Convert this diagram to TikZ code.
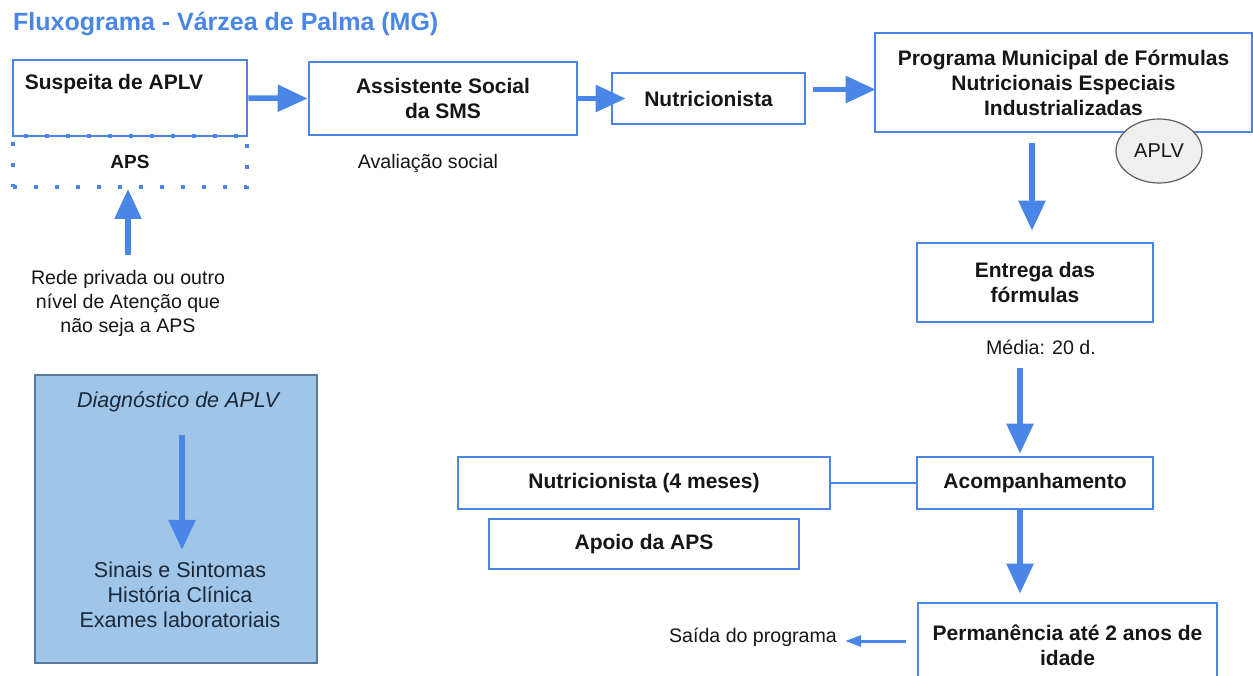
\documentclass[tikz,border=0pt]{standalone}
\usepackage{fontspec}
\setmainfont{Liberation Sans}
\usetikzlibrary{arrows.meta,shapes.geometric}

\definecolor{gblue}{HTML}{4A86E8}
\definecolor{inkc}{HTML}{161616}
\definecolor{diagfill}{HTML}{9FC5E8}
\definecolor{diagdraw}{HTML}{5A7898}
\definecolor{diagink}{HTML}{1B2838}
\definecolor{ovalfill}{HTML}{EFEFEF}
\definecolor{ovaldraw}{HTML}{5E5E5E}

\tikzset{
  box/.style={draw=gblue, line width=2.6pt, fill=white, inner sep=0pt,
              align=center, text=inkc, font={\fontsize{21}{25}\selectfont\bfseries}},
  apsbox/.style={draw=gblue, line width=4pt, dash pattern=on 4pt off 17pt,
              inner sep=0pt, text=inkc, font={\fontsize{19}{24}\selectfont\bfseries}},
  btext/.style={inner sep=0pt, text=inkc, font={\fontsize{21}{25}\selectfont\bfseries}},
  rtext/.style={inner sep=0pt, align=center, text=inkc, font={\fontsize{19.6}{24}\selectfont}},
  arr/.style={draw=gblue, line width=5.5pt, -{Triangle[length=30pt,width=26pt]}},
  smallarr/.style={draw=gblue, line width=3pt, -{Triangle[length=16pt,width=11pt]}},
  link/.style={draw=gblue, line width=2.5pt},
}

\begin{document}
\begin{tikzpicture}[x=1pt,y=-1pt]
  \clip (0,0) rectangle (1253,676);
  \fill[white] (0,0) rectangle (1253,676);

  % heading
  \node[anchor=west, inner sep=0pt, text=gblue,
        font={\fontsize{25}{30}\selectfont\bfseries}] (title) at (13,24)
        {Fluxograma - Várzea de Palma (MG)};

  % entry point and primary care
  \node[box, minimum width=234pt, minimum height=76pt] (susp) at (130,98) {};
  \node[btext, anchor=west] (suspt) at ([xshift=13pt,yshift=-25pt]susp.north west) {Suspeita de APLV};
  \node[apsbox, minimum width=234pt, minimum height=51pt] (aps) at (130,161.5) {APS};
  \node[rtext] (rede) at (128,303.5) {Rede privada ou outro\\nível de Atenção que\\não seja a APS};

  % top row
  \node[box, minimum width=268pt, minimum height=73pt] (asst) at (443,98.5) {Assistente Social\\da SMS};
  \node[rtext] (aval) at (428,163) {Avaliação social};
  \node[box, minimum width=193pt, minimum height=51pt] (nutri) at (708.5,98.5) {Nutricionista};
  \node[box, minimum width=377pt, minimum height=99pt] (prog) at (1063.5,82.5)
        {Programa Municipal de Fórmulas\\Nutricionais Especiais\\Industrializadas};
  \node[ellipse, draw=ovaldraw, line width=1.2pt, fill=ovalfill, inner sep=0pt,
        minimum width=86pt, minimum height=64pt, text=inkc,
        font={\fontsize{20}{24}\selectfont}] (aplv) at (1159,151) {APLV};

  % right column
  \node[box, minimum width=236pt, minimum height=79pt] (entrega) at (1035,282.5) {Entrega das\\fórmulas};
  \node[rtext] (media) at (1041,347) {Média: 20 d.};
  \node[box, minimum width=236pt, minimum height=52pt] (acomp) at (1035,483) {Acompanhamento};
  \node[box, minimum width=372pt, minimum height=52pt] (nutri4) at (644,483) {Nutricionista (4 meses)};
  \node[box, minimum width=310pt, minimum height=50pt] (apoio) at (644,544) {Apoio da APS};
  \node[box, minimum width=299pt, minimum height=84pt] (perm) at (1067.5,645) {Permanência até 2 anos de\\idade};
  \node[rtext] (saida) at (753,637) {Saída do programa};

  % diagnosis panel
  \node[draw=diagdraw, line width=1.6pt, fill=diagfill, inner sep=0pt,
        minimum width=282pt, minimum height=288pt] (diag) at (176,519) {};
  \node[inner sep=0pt, text=diagink, font={\fontsize{21.5}{25}\selectfont\itshape}] (diagt) at (178,402)
        {Diagnóstico de APLV};
  \node[inner sep=0pt, align=center, text=diagink, font={\fontsize{21.5}{25}\selectfont}] (diagl) at (180,595)
        {Sinais e Sintomas\\História Clínica\\Exames laboratoriais};

  % connectors
  \draw[arr] (susp.east) -- (asst.west);
  \draw[arr] (asst.east) -- ([xshift=15pt]nutri.west);
  \draw[arr] ([xshift=7pt,yshift=9pt]nutri.east) -- ([xshift=2pt,yshift=-7pt]prog.west);
  \draw[arr] ([xshift=-3pt,yshift=-10pt]entrega.north |- prog.south) -- ([xshift=-3pt,yshift=11pt]entrega.north);
  \draw[arr] ([xshift=-15pt,yshift=-45pt]entrega.south) -- ([xshift=-15pt,yshift=2pt]acomp.north);
  \draw[arr] ([xshift=-15pt]acomp.south) -- ([xshift=-15pt,yshift=8pt]acomp.south |- perm.north);
  \draw[link] (nutri4.east) -- (acomp.west);
  \draw[smallarr] ([xshift=-11pt,yshift=4pt]perm.west) -- ([xshift=8pt,yshift=-4pt]saida.east);
  \draw[arr] ([yshift=15pt]rede.north) -- (rede.north |- aps.south);
  \draw[arr] ([xshift=4pt,yshift=-23pt]diagt.south) -- ([xshift=4pt,yshift=12pt]diagt.south |- diagl.north);
\end{tikzpicture}
\end{document}
